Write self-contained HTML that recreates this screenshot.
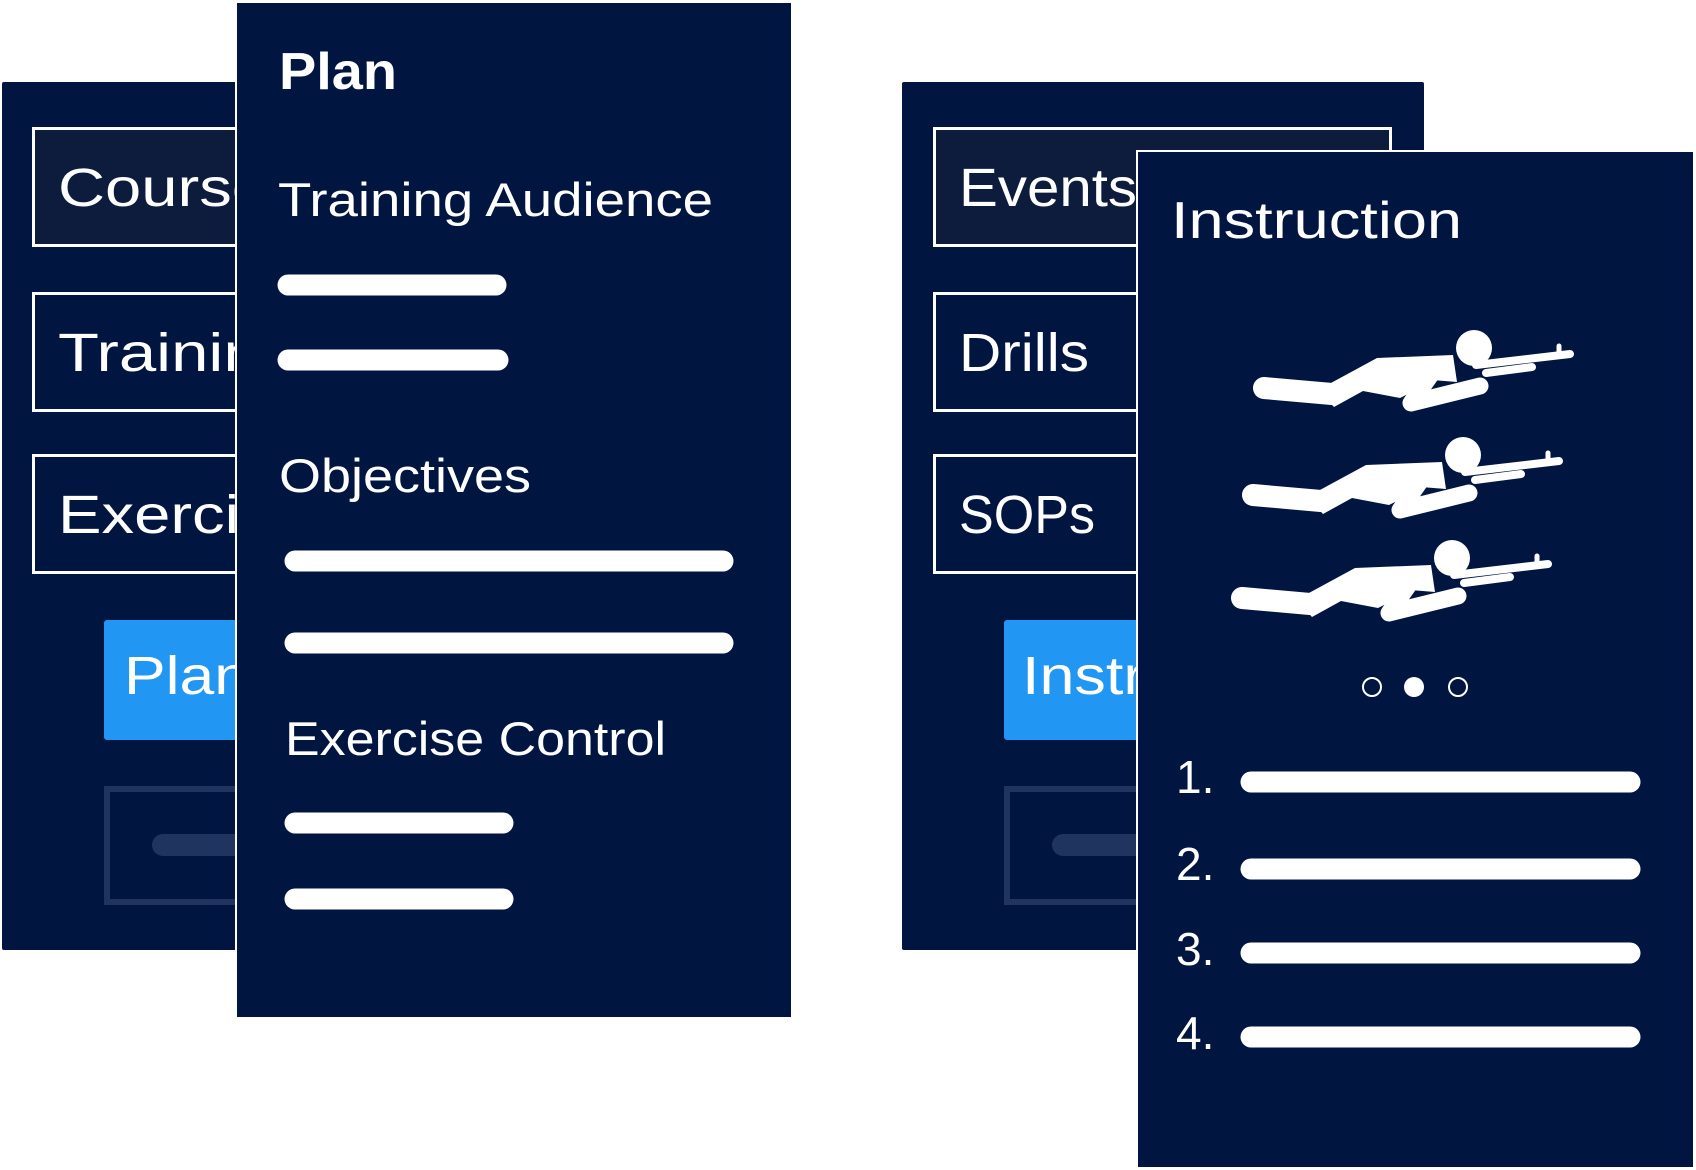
<!DOCTYPE html>
<html><head><meta charset="utf-8"><style>
html,body{margin:0;padding:0;background:#fff;}
svg{display:block;}
text{font-family:"Liberation Sans",sans-serif;fill:#fff;}
</style></head><body>
<svg width="1696" height="1170" viewBox="0 0 1696 1170" xmlns="http://www.w3.org/2000/svg">
<defs>
<g id="sold">
  <line x1="1264" y1="388" x2="1332" y2="394" stroke="#fff" stroke-width="22" stroke-linecap="round"/>
  <polygon points="1318,390 1377,358 1453,355 1457,382 1432,380 1412,392 1400,398 1363,391 1334,407" fill="#fff"/>
  <polyline points="1430,376 1411,403 1480,386" fill="none" stroke="#fff" stroke-width="17" stroke-linecap="round" stroke-linejoin="round"/>
  <circle cx="1474" cy="348" r="18" fill="#fff"/>
  <line x1="1476" y1="365" x2="1570" y2="354" stroke="#fff" stroke-width="8" stroke-linecap="round"/>
  <line x1="1486" y1="373" x2="1532" y2="367" stroke="#fff" stroke-width="8" stroke-linecap="round"/>
  <line x1="1559" y1="346" x2="1559" y2="356" stroke="#fff" stroke-width="5" stroke-linecap="round"/>
</g>
</defs>
<!-- left back panel -->
<rect x="2" y="82" width="500" height="868" rx="2" fill="#001640"/>
<rect x="33.5" y="128.5" width="400" height="117" fill="#0d1b3d" stroke="#fff" stroke-width="3"/>
<text x="58" y="206" font-size="54" textLength="210" lengthAdjust="spacingAndGlyphs">Course</text>
<rect x="33.5" y="293.5" width="400" height="117" fill="#001640" stroke="#fff" stroke-width="3"/>
<text x="58" y="371" font-size="54" textLength="240" lengthAdjust="spacingAndGlyphs">Training</text>
<rect x="33.5" y="455.5" width="400" height="117" fill="#001640" stroke="#fff" stroke-width="3"/>
<text x="58" y="533" font-size="54" textLength="250" lengthAdjust="spacingAndGlyphs">Exercise</text>
<rect x="104" y="620" width="300" height="120" rx="3" fill="#2196f3"/>
<text x="124" y="694" font-size="54" textLength="125" lengthAdjust="spacingAndGlyphs">Plan</text>
<rect x="107" y="789" width="280" height="113" fill="none" stroke="#1f355f" stroke-width="6"/>
<line x1="163" y1="845" x2="330" y2="845" stroke="#1f355f" stroke-width="22" stroke-linecap="round"/>
<!-- Plan front panel -->
<rect x="236" y="2" width="556" height="1016" fill="#001640" stroke="#fff" stroke-width="2"/>
<text x="279" y="89" font-size="52" font-weight="bold" textLength="118" lengthAdjust="spacingAndGlyphs">Plan</text>
<text x="278" y="216" font-size="47" textLength="435" lengthAdjust="spacingAndGlyphs">Training Audience</text>
<line x1="288" y1="285" x2="496" y2="285" stroke="#fff" stroke-width="21" stroke-linecap="round"/>
<line x1="288" y1="360" x2="498" y2="360" stroke="#fff" stroke-width="21" stroke-linecap="round"/>
<text x="279" y="492" font-size="47" textLength="252" lengthAdjust="spacingAndGlyphs">Objectives</text>
<line x1="295" y1="561" x2="723" y2="561" stroke="#fff" stroke-width="21" stroke-linecap="round"/>
<line x1="295" y1="643" x2="723" y2="643" stroke="#fff" stroke-width="21" stroke-linecap="round"/>
<text x="285" y="755" font-size="47" textLength="381" lengthAdjust="spacingAndGlyphs">Exercise Control</text>
<line x1="295" y1="823" x2="503" y2="823" stroke="#fff" stroke-width="21" stroke-linecap="round"/>
<line x1="295" y1="899" x2="503" y2="899" stroke="#fff" stroke-width="21" stroke-linecap="round"/>
<!-- right back panel -->
<rect x="902" y="82" width="522" height="868" rx="2" fill="#001640"/>
<rect x="934.5" y="128.5" width="456" height="117" fill="#0d1b3d" stroke="#fff" stroke-width="3"/>
<text x="959" y="206" font-size="54" textLength="178" lengthAdjust="spacingAndGlyphs">Events</text>
<rect x="934.5" y="293.5" width="456" height="117" fill="#001640" stroke="#fff" stroke-width="3"/>
<text x="959" y="371" font-size="54" textLength="130" lengthAdjust="spacingAndGlyphs">Drills</text>
<rect x="934.5" y="455.5" width="456" height="117" fill="#001640" stroke="#fff" stroke-width="3"/>
<text x="959" y="533" font-size="54" textLength="136" lengthAdjust="spacingAndGlyphs">SOPs</text>
<rect x="1004" y="620" width="300" height="120" rx="3" fill="#2196f3"/>
<text x="1022" y="694" font-size="54" textLength="290" lengthAdjust="spacingAndGlyphs">Instruction</text>
<rect x="1007" y="789" width="280" height="113" fill="none" stroke="#1f355f" stroke-width="6"/>
<line x1="1063" y1="845" x2="1230" y2="845" stroke="#1f355f" stroke-width="22" stroke-linecap="round"/>
<!-- Instruction front panel -->
<rect x="1137" y="151" width="557" height="1017" fill="#001640" stroke="#fff" stroke-width="2"/>
<text x="1171" y="238" font-size="52" textLength="291" lengthAdjust="spacingAndGlyphs">Instruction</text>
<use href="#sold"/>
<use href="#sold" transform="translate(-11,107)"/>
<use href="#sold" transform="translate(-22,210)"/>
<circle cx="1372" cy="687" r="9" fill="none" stroke="#fff" stroke-width="2"/>
<circle cx="1414" cy="687" r="10" fill="#fff"/>
<circle cx="1458" cy="687" r="9" fill="none" stroke="#fff" stroke-width="2"/>
<text x="1176" y="793" font-size="46">1.</text>
<text x="1176" y="880" font-size="46">2.</text>
<text x="1176" y="965" font-size="46">3.</text>
<text x="1176" y="1049" font-size="46">4.</text>
<line x1="1251" y1="782" x2="1630" y2="782" stroke="#fff" stroke-width="21" stroke-linecap="round"/>
<line x1="1251" y1="869" x2="1630" y2="869" stroke="#fff" stroke-width="21" stroke-linecap="round"/>
<line x1="1251" y1="953" x2="1630" y2="953" stroke="#fff" stroke-width="21" stroke-linecap="round"/>
<line x1="1251" y1="1037" x2="1630" y2="1037" stroke="#fff" stroke-width="21" stroke-linecap="round"/>
</svg>
</body></html>
